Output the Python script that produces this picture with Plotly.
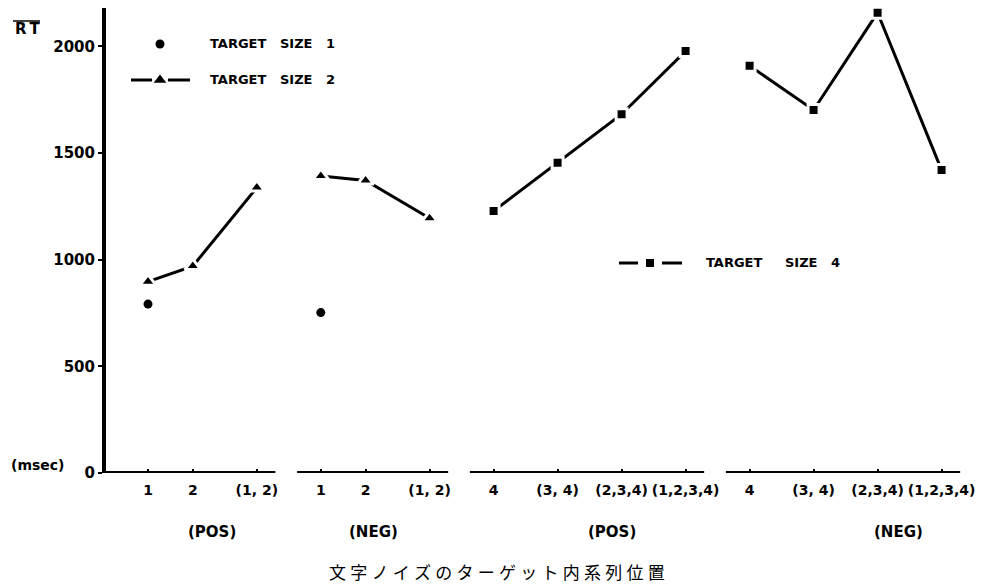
import plotly.graph_objects as go

# ---------------- data ----------------
tick_labels = ["1", "2", "(1, 2)",
               "1", "2", "(1, 2)",
               "4", "(3, 4)", "(2,3,4)", "(1,2,3,4)",
               "4", "(3, 4)", "(2,3,4)", "(1,2,3,4)"]
# category slot positions along the broken x-axis (4 groups)
slot_pos_g1 = [0.0, 0.7, 1.7]
slot_pos_g2 = [2.7, 3.4, 4.4]
slot_pos_g3 = [5.4, 6.4, 7.4, 8.4]
slot_pos_g4 = [9.4, 10.4, 11.4, 12.4]
group_labels = ["(POS)", "(NEG)", "(POS)", "(NEG)"]

size1_pos = [792]            # at category "1" (POS)
size1_neg = [752]            # at category "1" (NEG)
size2_pos = [897, 970, 1338]
size2_neg = [1392, 1371, 1194]
size4_pos = [1228, 1455, 1682, 1978]
size4_neg = [1909, 1702, 2158, 1420]

y_ticks = [0, 500, 1000, 1500, 2000]

# ---------------- layout geometry (reference pixel coords) ----------------
W, H = 991, 587
OFF = 8                      # page body margin
L, R, T, B = 106, 965, 8, 473
PX_PER_SLOT = 64.0
SLOT0_PX = 148
x_range = [(L - SLOT0_PX) / PX_PER_SLOT, (R - SLOT0_PX) / PX_PER_SLOT]
y_range = [0, 2180]


def px2x(p):
    return x_range[0] + (p - L) / (R - L) * (x_range[1] - x_range[0])


def px2y(p):
    return y_range[0] + (B - p) / (B - T) * (y_range[1] - y_range[0])


def pap_x(p):
    return (p - L) / (R - L)


def pap_y(p):
    return (B - p) / (B - T)


FONT = "DejaVu Sans"
BLK = "#000000"

fig = go.Figure()


def line_marker_trace(xs, ys, symbol, size):
    fig.add_trace(go.Scatter(
        x=xs, y=ys, mode="lines+markers",
        line=dict(color=BLK, width=3),
        marker=dict(symbol=symbol, size=size, color=BLK,
                    line=dict(color="white", width=3)),
        showlegend=False, hoverinfo="skip", cliponaxis=False))


# Target size 1 (points only)
for xs, ys in [([slot_pos_g1[0]], size1_pos), ([slot_pos_g2[0]], size1_neg)]:
    fig.add_trace(go.Scatter(x=xs, y=ys, mode="markers",
                             marker=dict(symbol="circle", size=9, color=BLK),
                             showlegend=False, hoverinfo="skip"))

# Target size 2
line_marker_trace(slot_pos_g1, size2_pos, "triangle-up", 14)
line_marker_trace(slot_pos_g2, size2_neg, "triangle-up", 14)
# Target size 4
line_marker_trace(slot_pos_g3, size4_pos, "square", 11)
line_marker_trace(slot_pos_g4, size4_neg, "square", 11)

# ---------------- legend glyphs (drawn manually) ----------------
fig.add_trace(go.Scatter(x=[px2x(160)], y=[px2y(44)], mode="markers",
                         marker=dict(symbol="circle", size=9, color=BLK),
                         showlegend=False, hoverinfo="skip"))
fig.add_trace(go.Scatter(x=[px2x(160)], y=[px2y(80)], mode="markers",
                         marker=dict(symbol="triangle-up", size=11, color=BLK),
                         showlegend=False, hoverinfo="skip"))
fig.add_trace(go.Scatter(x=[px2x(650)], y=[px2y(263)], mode="markers",
                         marker=dict(symbol="square", size=8, color=BLK),
                         showlegend=False, hoverinfo="skip"))

shapes = []
for (x0, x1, yy) in [(131, 152, 80), (168, 190, 80), (619, 638, 263), (662, 682, 263)]:
    shapes.append(dict(type="line", xref="paper", yref="paper",
                       x0=pap_x(x0), x1=pap_x(x1), y0=pap_y(yy), y1=pap_y(yy),
                       line=dict(color=BLK, width=3)))

# broken baseline segments
PAD_L, PAD_R = 0.37, 0.29
groups = [slot_pos_g1, slot_pos_g2, slot_pos_g3, slot_pos_g4]
for i, g in enumerate(groups):
    x0 = x_range[0] if i == 0 else g[0] - PAD_L
    shapes.append(dict(type="line", xref="x", yref="y",
                       x0=x0, x1=g[-1] + PAD_R, y0=0, y1=0,
                       line=dict(color=BLK, width=4), layer="above"))

# overline of RT
shapes.append(dict(type="line", xref="paper", yref="paper",
                   x0=pap_x(13), x1=pap_x(40), y0=pap_y(21), y1=pap_y(21),
                   line=dict(color=BLK, width=1.5)))

annotations = []


def ann(text, px, py, size=13, anchor="left", family=FONT, bold=True):
    annotations.append(dict(
        text=("<b>%s</b>" % text) if bold else text,
        xref="paper", yref="paper", x=pap_x(px), y=pap_y(py),
        xanchor=anchor, yanchor="middle", showarrow=False,
        font=dict(family=family, size=size, color=BLK)))


NB = "\u00a0"
ann("TARGET" + NB * 3 + "SIZE" + NB * 3 + "1", 208, 44, size=13)
ann("TARGET" + NB * 3 + "SIZE" + NB * 3 + "2", 208, 80, size=13)
ann("TARGET" + NB * 5 + "SIZE" + NB * 3 + "4", 704, 263, size=13)
ann("R\u2009T", 13, 29, size=15)
ann("(msec)", 9, 465, size=14)

# group labels under the axis
group_centers_px = [212, 373, 612, 898]
for lab, cx in zip(group_labels, group_centers_px):
    ann(lab, cx, 532, size=15, anchor="center")

# x-axis title (Japanese)
title_jp = "文字ノイズのターゲット内系列位置"
ann("\u2005".join(title_jp), 497, 571, size=17, anchor="center",
    family="Noto Sans CJK JP", bold=False)

all_slots = slot_pos_g1 + slot_pos_g2 + slot_pos_g3 + slot_pos_g4

fig.update_layout(
    width=W - OFF, height=H - OFF,
    margin=dict(l=L - OFF, r=W - R, t=T - OFF, b=H - B, pad=0),
    paper_bgcolor="white", plot_bgcolor="white",
    showlegend=False,
    shapes=shapes, annotations=annotations,
    xaxis=dict(range=x_range, showgrid=False, zeroline=False, showline=False,
               tickmode="array", tickvals=all_slots,
               ticktext=["<b>%s</b>" % t for t in tick_labels],
               tickangle=0,
               ticks="inside", ticklen=4, tickwidth=1.5, tickcolor=BLK,
               tickfont=dict(family=FONT, size=14, color=BLK),
               ticklabelstandoff=7),
    yaxis=dict(range=y_range, showgrid=False, zeroline=False,
               showline=True, linewidth=4, linecolor=BLK,
               tickmode="array", tickvals=y_ticks,
               ticktext=["<b>%d</b>" % v for v in y_ticks],
               ticks="outside", ticklen=4, tickwidth=1.5, tickcolor=BLK,
               tickfont=dict(family=FONT, size=15, color=BLK)),
)

fig.write_html("out.html")
